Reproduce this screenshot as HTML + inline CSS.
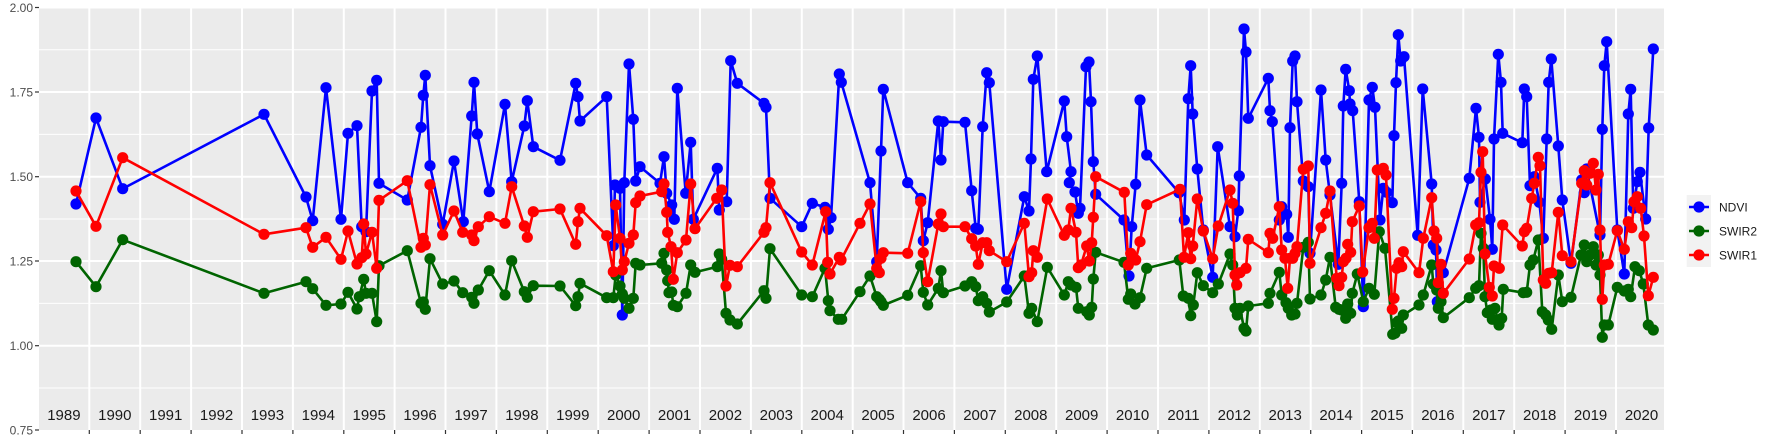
<!DOCTYPE html>
<html><head><meta charset="utf-8"><style>
html,body{margin:0;padding:0;background:#fff;}
svg{display:block;font-family:"Liberation Sans",sans-serif;}
</style></head><body>
<svg width="1773" height="442" viewBox="0 0 1773 442" xmlns="http://www.w3.org/2000/svg">
<defs>
<marker id="mb" markerUnits="userSpaceOnUse" markerWidth="14" markerHeight="14" refX="7" refY="7" viewBox="0 0 14 14"><circle cx="7" cy="7" r="5.6" fill="#0000FF"/></marker>
<marker id="mg" markerUnits="userSpaceOnUse" markerWidth="14" markerHeight="14" refX="7" refY="7" viewBox="0 0 14 14"><circle cx="7" cy="7" r="5.6" fill="#006400"/></marker>
<marker id="mr" markerUnits="userSpaceOnUse" markerWidth="14" markerHeight="14" refX="7" refY="7" viewBox="0 0 14 14"><circle cx="7" cy="7" r="5.6" fill="#FF0000"/></marker>
</defs>
<rect x="39" y="7.5" width="1625" height="422.5" fill="#EBEBEB"/>
<g stroke="#fff" stroke-width="1">
<line x1="39" x2="1664" y1="49.8" y2="49.8"/><line x1="39" x2="1664" y1="134.4" y2="134.4"/><line x1="39" x2="1664" y1="219" y2="219"/><line x1="39" x2="1664" y1="303.4" y2="303.4"/><line x1="39" x2="1664" y1="388" y2="388"/>
</g>
<g stroke="#fff" stroke-width="2">
<line x1="39" x2="1664" y1="7.5" y2="7.5"/><line x1="39" x2="1664" y1="92" y2="92"/><line x1="39" x2="1664" y1="176.7" y2="176.7"/><line x1="39" x2="1664" y1="261" y2="261"/><line x1="39" x2="1664" y1="345.7" y2="345.7"/>
</g>
<g stroke="#fff" stroke-width="2">
<line x1="89.3" x2="89.3" y1="7.5" y2="430"/><line x1="140.2" x2="140.2" y1="7.5" y2="430"/><line x1="191.1" x2="191.1" y1="7.5" y2="430"/><line x1="242" x2="242" y1="7.5" y2="430"/><line x1="292.9" x2="292.9" y1="7.5" y2="430"/><line x1="343.8" x2="343.8" y1="7.5" y2="430"/><line x1="394.6" x2="394.6" y1="7.5" y2="430"/><line x1="445.5" x2="445.5" y1="7.5" y2="430"/><line x1="496.4" x2="496.4" y1="7.5" y2="430"/><line x1="547.3" x2="547.3" y1="7.5" y2="430"/><line x1="598.2" x2="598.2" y1="7.5" y2="430"/><line x1="649.1" x2="649.1" y1="7.5" y2="430"/><line x1="700" x2="700" y1="7.5" y2="430"/><line x1="750.9" x2="750.9" y1="7.5" y2="430"/><line x1="801.8" x2="801.8" y1="7.5" y2="430"/><line x1="852.7" x2="852.7" y1="7.5" y2="430"/><line x1="903.5" x2="903.5" y1="7.5" y2="430"/><line x1="954.4" x2="954.4" y1="7.5" y2="430"/><line x1="1005.3" x2="1005.3" y1="7.5" y2="430"/><line x1="1056.2" x2="1056.2" y1="7.5" y2="430"/><line x1="1107.1" x2="1107.1" y1="7.5" y2="430"/><line x1="1158" x2="1158" y1="7.5" y2="430"/><line x1="1208.9" x2="1208.9" y1="7.5" y2="430"/><line x1="1259.8" x2="1259.8" y1="7.5" y2="430"/><line x1="1310.7" x2="1310.7" y1="7.5" y2="430"/><line x1="1361.6" x2="1361.6" y1="7.5" y2="430"/><line x1="1412.4" x2="1412.4" y1="7.5" y2="430"/><line x1="1463.3" x2="1463.3" y1="7.5" y2="430"/><line x1="1514.2" x2="1514.2" y1="7.5" y2="430"/><line x1="1565.1" x2="1565.1" y1="7.5" y2="430"/><line x1="1616" x2="1616" y1="7.5" y2="430"/>
</g>
<g stroke="#333" stroke-width="1.2">
<line x1="35" x2="39" y1="7.5" y2="7.5"/><line x1="35" x2="39" y1="92" y2="92"/><line x1="35" x2="39" y1="176.7" y2="176.7"/><line x1="35" x2="39" y1="261" y2="261"/><line x1="35" x2="39" y1="345.7" y2="345.7"/><line x1="35" x2="39" y1="430" y2="430"/>
<line x1="89.3" x2="89.3" y1="430" y2="434"/><line x1="140.2" x2="140.2" y1="430" y2="434"/><line x1="191.1" x2="191.1" y1="430" y2="434"/><line x1="242" x2="242" y1="430" y2="434"/><line x1="292.9" x2="292.9" y1="430" y2="434"/><line x1="343.8" x2="343.8" y1="430" y2="434"/><line x1="394.6" x2="394.6" y1="430" y2="434"/><line x1="445.5" x2="445.5" y1="430" y2="434"/><line x1="496.4" x2="496.4" y1="430" y2="434"/><line x1="547.3" x2="547.3" y1="430" y2="434"/><line x1="598.2" x2="598.2" y1="430" y2="434"/><line x1="649.1" x2="649.1" y1="430" y2="434"/><line x1="700" x2="700" y1="430" y2="434"/><line x1="750.9" x2="750.9" y1="430" y2="434"/><line x1="801.8" x2="801.8" y1="430" y2="434"/><line x1="852.7" x2="852.7" y1="430" y2="434"/><line x1="903.5" x2="903.5" y1="430" y2="434"/><line x1="954.4" x2="954.4" y1="430" y2="434"/><line x1="1005.3" x2="1005.3" y1="430" y2="434"/><line x1="1056.2" x2="1056.2" y1="430" y2="434"/><line x1="1107.1" x2="1107.1" y1="430" y2="434"/><line x1="1158" x2="1158" y1="430" y2="434"/><line x1="1208.9" x2="1208.9" y1="430" y2="434"/><line x1="1259.8" x2="1259.8" y1="430" y2="434"/><line x1="1310.7" x2="1310.7" y1="430" y2="434"/><line x1="1361.6" x2="1361.6" y1="430" y2="434"/><line x1="1412.4" x2="1412.4" y1="430" y2="434"/><line x1="1463.3" x2="1463.3" y1="430" y2="434"/><line x1="1514.2" x2="1514.2" y1="430" y2="434"/><line x1="1565.1" x2="1565.1" y1="430" y2="434"/><line x1="1616" x2="1616" y1="430" y2="434"/>
</g>
<g fill="#4D4D4D" font-size="12" text-anchor="end">
<text x="33" y="11.8">2.00</text><text x="33" y="96.3">1.75</text><text x="33" y="181">1.50</text><text x="33" y="265.3">1.25</text><text x="33" y="350">1.00</text><text x="33" y="434.3">0.75</text>
</g>
<g fill="#1A1A1A" font-size="15" text-anchor="middle">
<text x="63.9" y="420">1989</text><text x="114.8" y="420">1990</text><text x="165.7" y="420">1991</text><text x="216.6" y="420">1992</text><text x="267.4" y="420">1993</text><text x="318.3" y="420">1994</text><text x="369.2" y="420">1995</text><text x="420.1" y="420">1996</text><text x="471" y="420">1997</text><text x="521.9" y="420">1998</text><text x="572.8" y="420">1999</text><text x="623.7" y="420">2000</text><text x="674.6" y="420">2001</text><text x="725.4" y="420">2002</text><text x="776.3" y="420">2003</text><text x="827.2" y="420">2004</text><text x="878.1" y="420">2005</text><text x="929" y="420">2006</text><text x="979.9" y="420">2007</text><text x="1030.8" y="420">2008</text><text x="1081.7" y="420">2009</text><text x="1132.6" y="420">2010</text><text x="1183.5" y="420">2011</text><text x="1234.3" y="420">2012</text><text x="1285.2" y="420">2013</text><text x="1336.1" y="420">2014</text><text x="1387" y="420">2015</text><text x="1437.9" y="420">2016</text><text x="1488.8" y="420">2017</text><text x="1539.7" y="420">2018</text><text x="1590.6" y="420">2019</text><text x="1641.5" y="420">2020</text>
</g>
<g fill="none" stroke-width="2.6" stroke-linejoin="round">
<polyline stroke="#0000FF" marker-start="url(#mb)" marker-mid="url(#mb)" marker-end="url(#mb)" points="76,204 96,118 122.7,188.7 264,114.3 306,197 312.7,220.7 326,87.7 341,219.3 348,133.3 357,125.7 361.7,226.7 366,231.7 372,91 376.7,80.3 379,183.3 407.3,200 421,127.3 423.3,95.3 425.3,75.3 430,165.7 442.7,224.3 454,161 463.3,221.7 471.7,116 474,82.3 477.3,134 489.3,191.7 505,104.3 511.7,181.7 524.3,126 527.3,100.7 533.3,146.7 560,160.3 575.7,83.3 578,96.7 580,121 606.7,96.7 613.3,245.7 615,185 620,188.3 622.3,315 624.3,182.7 629,64 633.3,119.3 635.7,181 640,166.7 660,183.3 664,156.7 666.7,193.3 671.7,205 674.3,219.3 677.3,88.3 685.7,193.3 690.7,142.3 693.3,219.3 717.3,168.3 719.3,210 726.7,201.7 730.7,60.7 737.3,83.3 764,103.3 766,107.3 770,198.3 801.7,226.7 812.3,203.3 825,207.3 828.3,229.3 831,217.7 839.3,74 841.3,82.3 870,182.7 876.7,261.7 881,151 883.3,89.3 907.7,182.7 920.7,198.3 923.3,240.7 927.7,222.7 938.3,121 941,160 943.3,121.7 965,122.3 971.7,190.7 975.7,228.3 978.3,229.3 982.7,126.7 986.7,72.7 989.3,82.7 1006.7,289.3 1024.3,196.7 1029,211 1031,159 1033.3,79.3 1037.3,56 1046.7,171.7 1064.3,101 1066.7,136.7 1071,171.7 1069.3,182.7 1075,192 1078.3,213.3 1080,208.3 1086,66.7 1089,62 1091,101.7 1093.3,161.7 1095.7,194.3 1124,220 1129,276 1131.7,226.7 1135.7,184.3 1140,100 1146.7,155 1179,192.7 1184.3,220 1188.3,98.7 1190.7,65.7 1192.7,114 1197.3,169 1203.3,230 1212.7,277.3 1217.7,146.7 1230,226.7 1235,236.7 1238.3,210.7 1239.3,176 1244,29 1246,52 1248.3,118.3 1268.3,78.3 1270,110.7 1272.3,121.7 1279.3,220 1281.7,206.7 1286.7,214.3 1288.3,237.3 1290,127.7 1292.7,61 1295,56 1297,101.7 1303.3,181 1308.3,186.7 1310,253.3 1321,90 1325.7,160 1330,195 1338.3,264.3 1341.7,183.3 1343.3,106 1345.7,69.3 1349.3,90.7 1350,104 1352.7,110.7 1359.3,201.7 1363.3,306.7 1369,100 1372.3,87.3 1375,107.3 1380,220 1383.3,188.3 1386.7,192.3 1392.3,202.7 1394,135.7 1396,82.7 1398.3,34.7 1400.7,61 1404,56.7 1417.7,235.3 1422.7,89 1431.7,184 1433.3,245 1436,250 1437.3,301.7 1443.3,272.7 1469.3,178.3 1476,108.3 1479,137.3 1480,202.3 1485.3,179 1490,219.3 1492.3,249.3 1494,139 1498.3,54.3 1501,82.3 1502.7,133.3 1522.3,142.7 1524.3,89 1526.7,96.7 1530,185.7 1534.3,176.7 1539.3,202.3 1543.3,238.3 1546.7,139 1548.7,82.3 1551.3,59 1558.3,146 1562.3,200 1571,263.3 1581.7,180 1584.3,192.7 1586.7,169 1600,235 1602.3,129.3 1604.3,65.7 1606.7,41.7 1617.3,230 1624.3,274 1628.3,114 1630.7,89.3 1633.3,208.3 1637.3,181.7 1640,172.3 1645.7,219 1648.7,128 1653.3,49"/>
<polyline stroke="#006400" marker-start="url(#mg)" marker-mid="url(#mg)" marker-end="url(#mg)" points="76,261.7 96,286.7 122.7,239.7 264,293.3 306,281.7 312.7,288.7 326,305.3 341,304 348,292.3 357,309 359.3,296.7 363.7,279.3 366,293.3 372,293.3 376.7,321.7 379,265.7 407.3,250.7 421,303.3 423.3,302 425.3,309.3 430,258.7 442.7,284 454,281 462.7,292.7 471.7,297.3 474,303.3 478.3,290 489.3,270.7 505,295 511.7,260.7 524.3,291.7 527.3,297.3 533.3,285.7 560,286 575.7,305.7 578,296.7 580,283.3 606.7,297.7 613.3,297.7 615.7,275 620,286 622.3,294 624.3,298.3 629,308.3 633.3,298.3 635.7,263.3 640,265 661.7,263.3 664,253.3 666.7,270 667.7,280.7 669,292.7 671.7,292 673.3,305.3 677.3,306.7 686,293.3 690.7,265 695,272.3 717.3,266.7 719.3,254 721.7,259.3 726,313.3 730,320 737.3,324 764,290.7 766,298.3 770,248.7 801.7,295 812.3,296.7 825,268.3 828.3,300.7 830,310.7 838.3,319.3 841.7,319.3 860,291.7 870,276 876.7,296.7 879.3,299.3 881,301.7 883.3,305.3 907.7,295.3 920.7,265.7 923.3,292.3 927.7,305 938.3,288.3 941,270.7 943.3,292.7 965,286 971.7,281.7 975.7,286.7 978.3,300.7 982.7,296.7 986.7,303.3 989.3,312 1006.7,302 1024.3,276 1029,313.3 1031.7,308.3 1037.3,321.7 1047.3,267.3 1064.3,295 1068.3,281.7 1071,285 1076,287.3 1078.3,308.3 1086.7,311.7 1089.3,315 1091.7,307.3 1093.3,279 1095.7,252.3 1124,262.3 1128.3,299.3 1130.7,294 1135,304 1140,297.7 1146.7,268.3 1179.3,260 1183.3,296 1188.3,298.3 1190.7,315.7 1193.3,305 1197.3,272.7 1203.3,285.7 1212.7,292.7 1218.3,284 1230,254 1232.7,265 1235,308.3 1237.3,315 1240,308.3 1244,328.3 1246,331 1248.3,306 1268.3,303.3 1270,293.3 1279.3,272.3 1281.7,295 1286,302.7 1288.3,308.3 1291.7,315 1295,314 1297,303.3 1303.3,247.3 1308.3,242.3 1310,299 1321,295 1325.7,280 1330,257.3 1335.7,307.3 1339,309.3 1341.7,310 1345.7,318.3 1347.7,304 1350.7,313.3 1352.3,293.3 1357.3,274 1363.3,301.7 1369,288.3 1374.3,294.3 1379.3,231.7 1385,248.3 1392.7,334.3 1395,333.3 1396.7,322.7 1398.3,321 1401.7,328.3 1403.3,315 1419,305 1423.3,295 1431.7,265 1433.3,284 1436.7,290 1438.3,308.3 1441,301.7 1443.3,317.7 1469.3,297.7 1475.7,288.3 1479,285.7 1481,233.3 1483.3,248.3 1485,296.7 1487.3,312.7 1491,310 1492.3,319.3 1495,308.3 1499,325 1501.7,318.3 1503.3,289.3 1523.3,292.7 1526.7,292.3 1530,265 1533.3,260 1538.3,240 1542.3,311.7 1545.7,315 1548.3,320 1551.7,329.3 1558.3,275 1562.3,301.7 1571,297.3 1581,255 1584.3,245 1586.7,261.7 1590,255 1593.3,246.7 1596,265 1598.3,255 1600,275 1602.3,337.3 1604.3,325 1608.3,325 1617.3,287.3 1624.3,291 1628.3,289.3 1630.7,296.7 1635,266.7 1639.3,270.7 1643.3,284 1648.3,325 1653.3,330"/>
<polyline stroke="#FF0000" marker-start="url(#mr)" marker-mid="url(#mr)" marker-end="url(#mr)" points="76,191 96,226.3 122.7,157.7 264,234.3 306,227.7 312.7,247.3 326,237.3 341,259.3 348,231 357,264 361.7,257.7 363.7,224 366,254 372,232.3 376.7,268.3 379,200.3 407.3,180.7 421,247.3 423.3,238.3 425.3,245 430,184.7 442.7,235 454,211 462.7,232.3 471.7,235 474,240.7 478.3,226.7 489.3,216.7 505,223.3 511.7,186.7 524.3,226 527.3,237.3 533.3,211.7 560,209 575.7,244.3 578,221.7 580,208.3 606.7,235.7 613.3,271.7 615.7,205 620,238.3 622.3,270 624.3,261.7 629,243.3 633.3,235 635.7,202.7 640,196 661.7,191.7 664,184 666.7,212.3 667.7,232.3 671,246.7 673.3,279.3 677.3,252.7 686,240 690.7,184 695,228.7 716.7,198.3 721.7,190 726,286 730,265.3 737.3,266.7 764,232.3 766,227.7 770,182.7 801.7,252 812.3,265 825.7,211.7 827.7,262.3 830,274 839.3,257.3 841,260 860,223.3 870,204 876.7,268.3 879.3,272.7 881,258.3 883.3,252.7 907.7,253.3 920.7,201.7 923.3,252.7 927.7,281.7 938.3,224 941,214 943.3,226.7 965,226.7 971.7,238.7 975.7,246 978.3,264.3 982.7,242.7 986.7,242.7 989.3,250.7 1006.7,261.7 1024.3,223.3 1029,276.7 1031.7,272.7 1033.3,250.7 1037.3,257.3 1047.3,199 1064.3,235.3 1068.3,230 1071,208.3 1076,232.3 1078.3,267.7 1081,265 1086.7,246 1089.3,261 1091.7,242.7 1093.3,217.3 1095.7,176.7 1124.3,192.3 1128.3,265 1130.7,253.3 1135.7,260 1140,241.7 1146.7,204.7 1180,189.3 1184,257.3 1188.3,232.7 1190.7,258.7 1192.7,246 1197.3,199 1203.3,231 1212.7,258.7 1218.3,226 1230,190 1232.7,203.3 1235,275 1236.7,285 1240,272.7 1246,268.3 1248.3,239.3 1268.3,252.7 1270,233.3 1272.7,238.3 1279.3,206.7 1281.7,250 1285,258.3 1287.7,288.3 1290,258.3 1292.7,258.3 1295,253.3 1297,246.7 1303.3,169.3 1308.3,166 1310,263.3 1321,227.7 1325.7,213.3 1330,191 1336.7,278.3 1339,285.7 1341.7,277.3 1343.3,261.7 1346,258.3 1347.7,244.3 1350.7,252.3 1352.3,221.7 1359.3,206 1362.7,272 1369,227.7 1372.3,223.3 1374.3,238.3 1377.3,170 1383.3,168.3 1386,175 1392.3,309.3 1394,298.3 1396.7,268.3 1399,262.7 1401.7,266.7 1403.3,251.7 1419,272.7 1423.3,238.3 1431.7,197.7 1434,231 1436.7,238.3 1438.3,282.7 1441,264.3 1443.3,293.3 1469.3,259 1475.7,225 1479,222.7 1481,172.3 1482.7,151.7 1485,254 1489.3,287.3 1492.3,296 1494,266 1499.3,268.3 1502.7,225 1522.3,246 1524.3,231.7 1526.7,228.3 1531.7,198.3 1534.3,183.3 1538.3,157.3 1540,165.7 1543.3,280 1545.7,283.3 1548.7,273.3 1551.7,272.7 1558.3,212.3 1562.3,255.7 1571,261.7 1581.7,183.3 1584.3,170.7 1586.7,185 1590,173.3 1593.3,163.3 1596,190 1598.3,174.3 1600,230 1602.3,299.3 1604.3,265 1608.3,264.3 1617.3,230.7 1624.3,249.3 1628.3,221.7 1631.7,227.7 1634,201.7 1637.3,196.7 1640.7,208.3 1644,236 1648.3,295.7 1653.3,277.3"/>
</g>
<rect x="1686.7" y="195" width="24.3" height="72" fill="#F2F2F2"/>
<g stroke-width="2.6">
<line x1="1689" x2="1709" y1="207" y2="207" stroke="#0000FF"/><circle cx="1699" cy="207" r="5.6" fill="#0000FF"/>
<line x1="1689" x2="1709" y1="231" y2="231" stroke="#006400"/><circle cx="1699" cy="231" r="5.6" fill="#006400"/>
<line x1="1689" x2="1709" y1="255" y2="255" stroke="#FF0000"/><circle cx="1699" cy="255" r="5.6" fill="#FF0000"/>
</g>
<g fill="#1A1A1A" font-size="12">
<text x="1719" y="211.5">NDVI</text><text x="1719" y="235.5">SWIR2</text><text x="1719" y="259.5">SWIR1</text>
</g>
</svg>
</body></html>
